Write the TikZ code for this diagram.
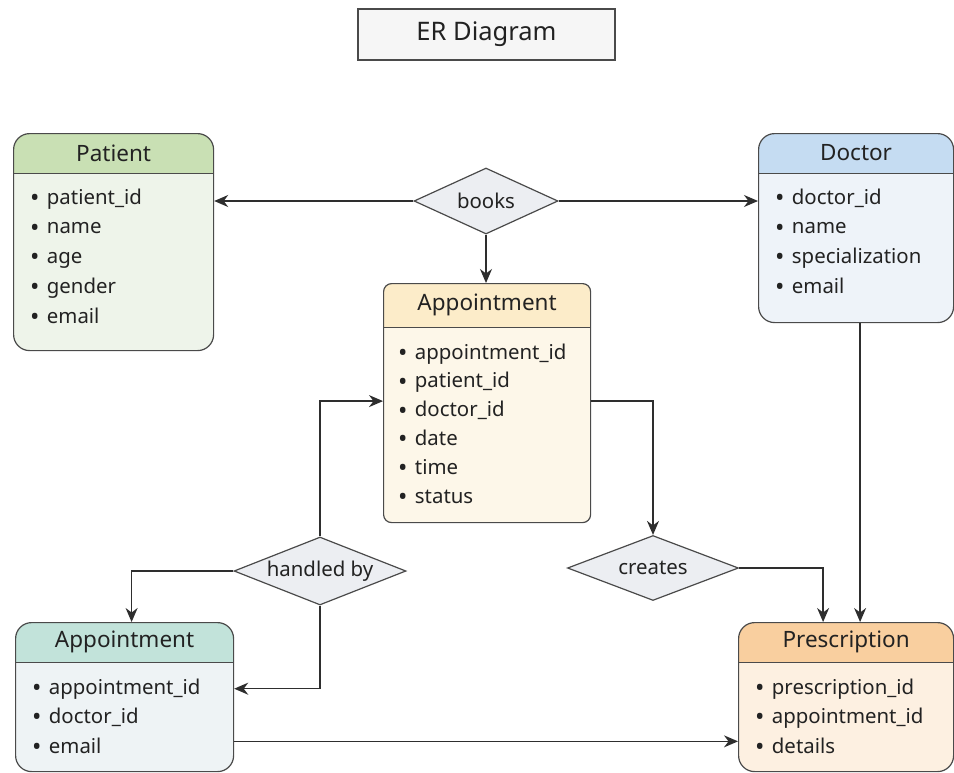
\documentclass[tikz,border=0pt]{standalone}
\usepackage{fontspec}
\setmainfont{Noto Sans}
\usetikzlibrary{shapes.geometric,arrows.meta,positioning}
\definecolor{ink}{HTML}{222222}
\definecolor{boxline}{HTML}{4A4A4A}
\definecolor{linkcol}{HTML}{2E2E2E}
\definecolor{relfill}{HTML}{ECEEF2}
\definecolor{titlefill}{HTML}{F6F6F6}
\definecolor{pathead}{HTML}{C9E0B4}
\definecolor{patbody}{HTML}{EEF4EA}
\definecolor{dochead}{HTML}{C5DCF2}
\definecolor{docbody}{HTML}{EEF3F9}
\definecolor{apphead}{HTML}{FCECC9}
\definecolor{appbody}{HTML}{FDF7E9}
\definecolor{hndhead}{HTML}{C2E3DA}
\definecolor{hndbody}{HTML}{EEF3F5}
\definecolor{prehead}{HTML}{F9CF9F}
\definecolor{prebody}{HTML}{FDF0E1}
\newcommand{\attrfont}{\fontsize{20.4}{24}\selectfont}
\newcommand{\attrdot}{\raisebox{-2.2pt}{\fontsize{25}{25}\selectfont\textbullet}\hspace{0.36em}}
\tikzstyle{er-box} = [draw=boxline, line width=1.2pt, rectangle,
    rounded corners=16pt, inner sep=0pt, anchor=north west]
\tikzstyle{er-title} = [text=ink, font=\fontsize{22.5}{26}\selectfont, inner sep=0pt]
\tikzstyle{er-attr} = [text=ink, font=\attrfont, inner sep=0pt,
    anchor=base west, execute at begin node={\attrdot}]
\tikzstyle{rel-diamond} = [diamond, draw=boxline, line width=1.2pt, fill=relfill,
    inner sep=0pt, aspect=2.5, text=ink, font=\attrfont]
\tikzstyle{er-link} = [draw=linkcol, line width=1.3pt,
    -{Stealth[length=14pt,width=12pt,inset=4.5pt]}]
\tikzset{er-head/.style 2 args={path picture={
    \fill[#1, sharp corners] (path picture bounding box.north west)
        rectangle ([yshift=-#2]path picture bounding box.north east);
    \draw[boxline, sharp corners] ([yshift=-#2]path picture bounding box.north west)
        -- ([yshift=-#2]path picture bounding box.north east);}}}

\begin{document}
\begin{tikzpicture}[x=1pt, y=-1pt]
\fill[white] (0,0) rectangle (954,772);
\useasboundingbox (0,0) rectangle (954,772);

\node[draw=boxline, line width=1.2pt, fill=titlefill, minimum width=257pt,
    minimum height=51pt, text=ink, font=\fontsize{25.5}{29}\selectfont] (title) at (486.5,34.5) {ER Diagram};

% entities
\node[er-box, fill=patbody, er-head={pathead}{40pt}, minimum width=200pt,
    minimum height=217pt] (patient) at (13,133) {};
\node[er-title, below=20pt of patient.north, anchor=center] (patient-title) {Patient};
\foreach \a [count=\i] in {patient\_id, name, age, gender, email}
    \node[er-attr] (patient-a\i) at ([xshift=17pt,yshift={-71pt-29.8pt*(\i-1)}]patient.north west) {\a};

\node[er-box, fill=docbody, er-head={dochead}{40pt}, minimum width=195pt,
    minimum height=189pt] (doctor) at (758,133) {};
\node[er-title, below=20pt of doctor.north, anchor=center] (doctor-title) {Doctor};
\foreach \a [count=\i] in {doctor\_id, name, specialization, email}
    \node[er-attr] (doctor-a\i) at ([xshift=17pt,yshift={-71pt-29.8pt*(\i-1)}]doctor.north west) {\a};

\node[er-box, fill=appbody, er-head={apphead}{44pt}, rounded corners=8pt,
    minimum width=207pt, minimum height=239pt] (app) at (383,283) {};
\node[er-title, below=22pt of app.north, anchor=center] (app-title) {Appointment};
\foreach \a [count=\i] in {appointment\_id, patient\_id, doctor\_id, date, time, status}
    \node[er-attr] (app-a\i) at ([xshift=15pt,yshift={-76pt-28.9pt*(\i-1)}]app.north west) {\a};

\node[er-box, fill=hndbody, er-head={hndhead}{40pt}, minimum width=218pt,
    minimum height=149pt] (app2) at (15,622) {};
\node[er-title, below=20pt of app2.north, anchor=center] (app2-title) {Appointment};
\foreach \a [count=\i] in {appointment\_id, doctor\_id, email}
    \node[er-attr] (app2-a\i) at ([xshift=17pt,yshift={-72pt-29.5pt*(\i-1)}]app2.north west) {\a};

\node[er-box, fill=prebody, er-head={prehead}{40pt}, minimum width=215pt,
    minimum height=149pt] (presc) at (738,622) {};
\node[er-title, below=20pt of presc.north, anchor=center] (presc-title) {Prescription};
\foreach \a [count=\i] in {prescription\_id, appointment\_id, details}
    \node[er-attr] (presc-a\i) at ([xshift=17pt,yshift={-72pt-29.5pt*(\i-1)}]presc.north west) {\a};

% relationships
\node[rel-diamond, minimum width=144pt, minimum height=66pt] (books) at (486,201) {books};
\node[rel-diamond, minimum width=172pt, minimum height=68pt] (handled) at (320,571) {handled by};
\node[rel-diamond, minimum width=171pt, minimum height=65pt] (creates) at (653,568) {creates};

% links
\draw[er-link] (books.west) -- (books.west -| patient.east);
\draw[er-link] (books.east) -- (books.east -| doctor.west);
\draw[er-link] (books.south) -- (books.south |- app.north);
\draw[er-link] (handled.north) |- ([yshift=2pt]app.west);
\draw[er-link] (handled.west) -| ([xshift=7pt]app2.north);
\draw[er-link] (handled.south) |- (app2-a1 -| app2.east);
\draw[er-link] ([yshift=2pt]app.east) -| (creates.north);
\draw[er-link] (creates.east) -| ([xshift=-23pt]presc.north);
\draw[er-link] ([xshift=4pt]doctor.south) -- ([xshift=4pt]doctor.south |- presc.north);
\draw[er-link] ([yshift=5pt]app2-a3 -| app2.east) -- ([yshift=5pt]app2-a3 -| presc.west);
\end{tikzpicture}
\end{document}
